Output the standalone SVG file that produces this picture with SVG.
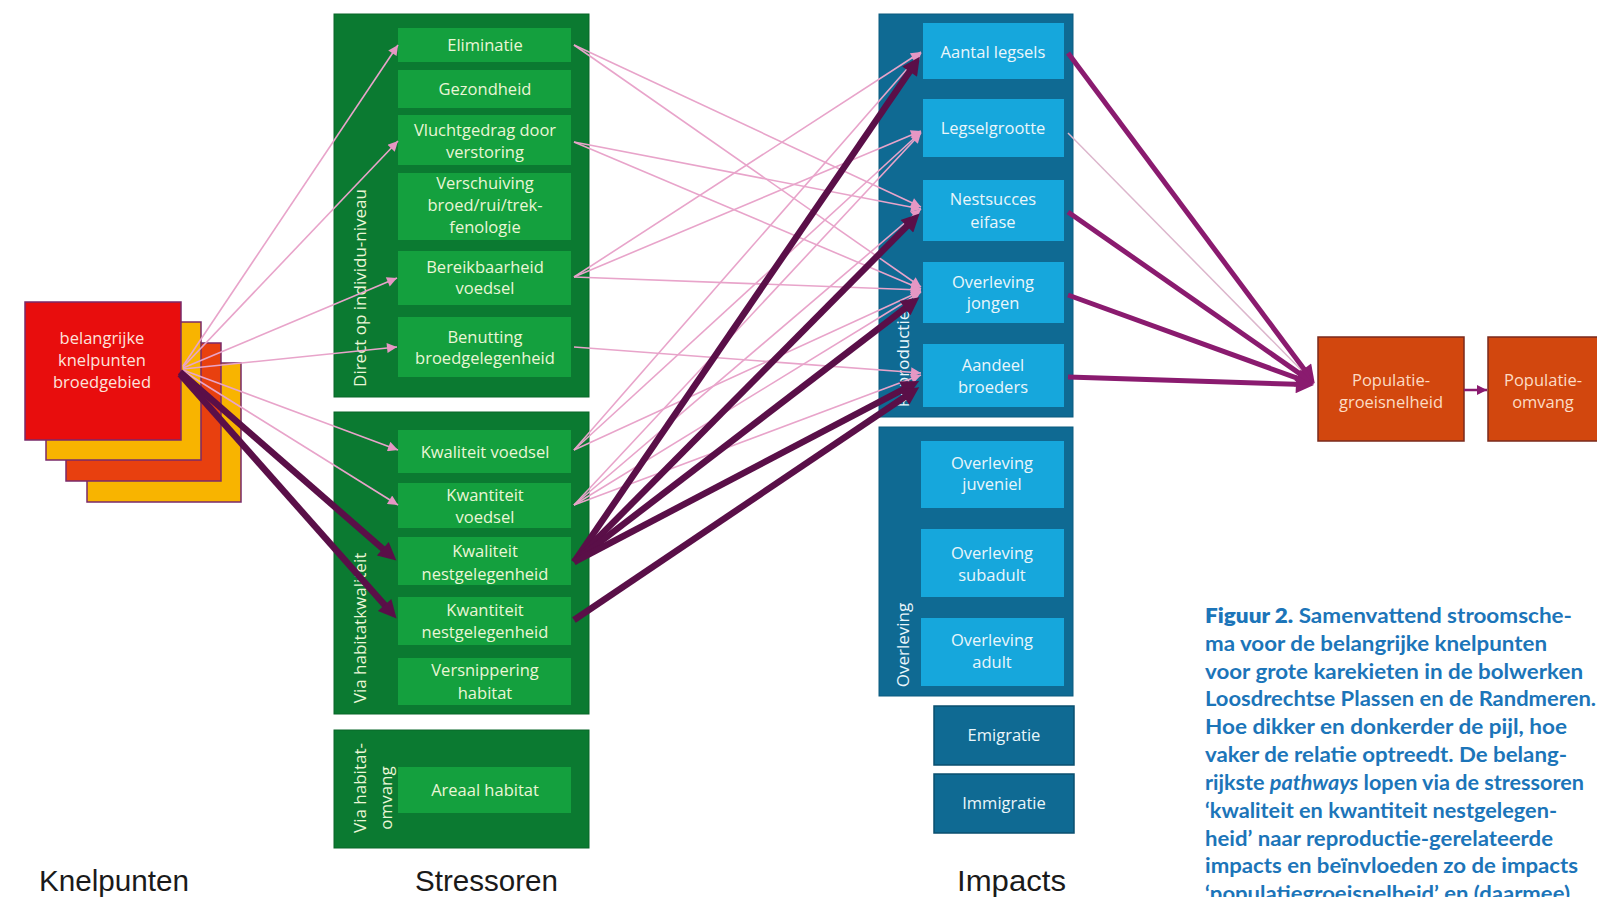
<svg xmlns="http://www.w3.org/2000/svg" width="1597" height="897" viewBox="0 0 1597 897">
<defs>
<style>
.t{font-family:"Open Sans","Liberation Sans",sans-serif;font-size:16.5px;text-anchor:middle}
.gout{fill:#0b7a31;stroke:#086628;stroke-width:1}
.gin{fill:#14a03e}
.gtx{fill:#eaf6d6}
.bout{fill:#0f6a93;stroke:#0b5a7e;stroke-width:1}
.bin{fill:#16a7dc}
.btx{fill:#eaf6fb}
.side{font-family:"Open Sans","Liberation Sans",sans-serif;font-size:17px;text-anchor:middle}
.pk{stroke:#e8a4ca;stroke-width:1.6;fill:none;marker-end:url(#ap)}
.dk{stroke:#5a0f48;stroke-width:6.5;fill:none;marker-end:url(#ad)}
.pr{stroke:#8a1b6f;stroke-width:5;fill:none;marker-end:url(#apr)}
.lbl{font-family:"Liberation Sans",Arial,sans-serif;font-size:29px;fill:#1a1a1a}
.cap{font-family:Lato,"Open Sans",sans-serif;font-weight:700;font-size:21px;fill:#1c75b9}
</style>
<marker id="ap" viewBox="0 0 10 10" refX="10" refY="5" markerWidth="13" markerHeight="10" markerUnits="userSpaceOnUse" orient="auto"><path d="M0,0 L10,5 L0,10 z" fill="#e697c4"/></marker>
<marker id="ad" viewBox="0 0 10 10" refX="4.5" refY="5" markerWidth="22" markerHeight="18" markerUnits="userSpaceOnUse" orient="auto"><path d="M0,0 L10,5 L0,10 z" fill="#5a0f48"/></marker>
<marker id="apr" viewBox="0 0 10 10" refX="4.5" refY="5" markerWidth="22" markerHeight="18" markerUnits="userSpaceOnUse" orient="auto"><path d="M0,0 L10,5 L0,10 z" fill="#8a1b6f"/></marker>
<marker id="asm" viewBox="0 0 10 10" refX="10" refY="5" markerWidth="11" markerHeight="10" markerUnits="userSpaceOnUse" orient="auto"><path d="M0,0 L10,5 L0,10 z" fill="#8a1b6f"/></marker>
</defs>
<rect width="1597" height="897" fill="#ffffff"/>

<g id="knelpunten">
<rect x="87" y="363" width="154" height="139" fill="#f8b400" stroke="#7a2a6a" stroke-width="1.5"/>
<rect x="66" y="343" width="155" height="138" fill="#e8400f" stroke="#7a2a6a" stroke-width="1.5"/>
<rect x="46" y="322" width="155" height="138" fill="#f8b400" stroke="#7a2a6a" stroke-width="1.5"/>
<rect x="25" y="302" width="156" height="138" fill="#e80d0d" stroke="#7a2a6a" stroke-width="1.5"/>
<text class="t" fill="#fde3dc" x="102" y="344">belangrijke</text>
<text class="t" fill="#fde3dc" x="102" y="366">knelpunten</text>
<text class="t" fill="#fde3dc" x="102" y="388">broedgebied</text>
</g>

<g id="stressoren-direct">
<rect class="gout" x="334" y="14" width="255" height="383"/>
<text class="side gtx" transform="translate(366,288) rotate(-90)">Direct op individu-niveau</text>
<g id="eliminatie"><rect class="gin" x="398" y="28" width="173" height="34"/><text class="t gtx" x="485" y="51">Eliminatie</text></g>
<g id="gezondheid"><rect class="gin" x="398" y="70" width="173" height="38"/><text class="t gtx" x="485" y="95">Gezondheid</text></g>
<g id="vluchtgedrag"><rect class="gin" x="398" y="115" width="173" height="50"/><text class="t gtx" x="485" y="136">Vluchtgedrag door</text><text class="t gtx" x="485" y="158">verstoring</text></g>
<g id="verschuiving"><rect class="gin" x="398" y="173" width="173" height="67"/><text class="t gtx" x="485" y="189">Verschuiving</text><text class="t gtx" x="485" y="211">broed/rui/trek-</text><text class="t gtx" x="485" y="233">fenologie</text></g>
<g id="bereikbaarheid"><rect class="gin" x="398" y="251" width="173" height="54"/><text class="t gtx" x="485" y="273">Bereikbaarheid</text><text class="t gtx" x="485" y="294">voedsel</text></g>
<g id="benutting"><rect class="gin" x="398" y="317" width="173" height="60"/><text class="t gtx" x="485" y="343">Benutting</text><text class="t gtx" x="485" y="364">broedgelegenheid</text></g>
</g>

<g id="stressoren-kwaliteit">
<rect class="gout" x="334" y="412" width="255" height="302"/>
<text class="side gtx" transform="translate(366,628) rotate(-90)">Via habitatkwaliteit</text>
<g id="kwaliteit-voedsel"><rect class="gin" x="398" y="430" width="173" height="43"/><text class="t gtx" x="485" y="458">Kwaliteit  voedsel</text></g>
<g id="kwantiteit-voedsel"><rect class="gin" x="398" y="483" width="173" height="45"/><text class="t gtx" x="485" y="501">Kwantiteit</text><text class="t gtx" x="485" y="523">voedsel</text></g>
<g id="kwaliteit-nest"><rect class="gin" x="398" y="537" width="173" height="48"/><text class="t gtx" x="485" y="557">Kwaliteit</text><text class="t gtx" x="485" y="580">nestgelegenheid</text></g>
<g id="kwantiteit-nest"><rect class="gin" x="398" y="597" width="173" height="48"/><text class="t gtx" x="485" y="616">Kwantiteit</text><text class="t gtx" x="485" y="638">nestgelegenheid</text></g>
<g id="versnippering"><rect class="gin" x="398" y="658" width="173" height="47"/><text class="t gtx" x="485" y="676">Versnippering</text><text class="t gtx" x="485" y="699">habitat</text></g>
</g>

<g id="stressoren-omvang">
<rect class="gout" x="334" y="730" width="255" height="118"/>
<text class="side gtx" transform="translate(366,788) rotate(-90)">Via habitat-</text>
<text class="side gtx" transform="translate(392,798) rotate(-90)">omvang</text>
<g id="areaal"><rect class="gin" x="398" y="767" width="173" height="46"/><text class="t gtx" x="485" y="796">Areaal habitat</text></g>
</g>

<g id="impacts-reproductie">
<rect class="bout" x="879" y="14" width="194" height="403"/>
<text class="side btx" transform="translate(909,359) rotate(-90)">Reproductie</text>
<g id="aantal-legsels"><rect class="bin" x="923" y="23" width="141" height="56"/><text class="t btx" x="993" y="58">Aantal legsels</text></g>
<g id="legselgrootte"><rect class="bin" x="923" y="99" width="141" height="58"/><text class="t btx" x="993" y="134">Legselgrootte</text></g>
<g id="nestsucces"><rect class="bin" x="923" y="180" width="141" height="61"/><text class="t btx" x="993" y="205">Nestsucces</text><text class="t btx" x="993" y="228">eifase</text></g>
<g id="overleving-jongen"><rect class="bin" x="923" y="262" width="141" height="61"/><text class="t btx" x="993" y="288">Overleving</text><text class="t btx" x="993" y="309">jongen</text></g>
<g id="aandeel-broeders"><rect class="bin" x="923" y="344" width="141" height="63"/><text class="t btx" x="993" y="371">Aandeel</text><text class="t btx" x="993" y="393">broeders</text></g>
</g>

<g id="impacts-overleving">
<rect class="bout" x="879" y="427" width="194" height="269"/>
<text class="side btx" transform="translate(909,645) rotate(-90)">Overleving</text>
<g id="overleving-juveniel"><rect class="bin" x="921" y="441" width="143" height="67"/><text class="t btx" x="992" y="469">Overleving</text><text class="t btx" x="992" y="490">juveniel</text></g>
<g id="overleving-subadult"><rect class="bin" x="921" y="529" width="143" height="68"/><text class="t btx" x="992" y="559">Overleving</text><text class="t btx" x="992" y="581">subadult</text></g>
<g id="overleving-adult"><rect class="bin" x="921" y="618" width="143" height="68"/><text class="t btx" x="992" y="646">Overleving</text><text class="t btx" x="992" y="668">adult</text></g>
</g>

<g id="emigratie"><rect x="934" y="706" width="140" height="59" fill="#0f6a93" stroke="#0a4f6f" stroke-width="1.5"/><text class="t btx" x="1004" y="741">Emigratie</text></g>
<g id="immigratie"><rect x="934" y="774" width="140" height="59" fill="#0f6a93" stroke="#0a4f6f" stroke-width="1.5"/><text class="t btx" x="1004" y="809">Immigratie</text></g>

<g id="populatie-groeisnelheid"><rect x="1318" y="337" width="146" height="104" fill="#d2470e" stroke="#7a2a1c" stroke-width="1.5"/><text class="t" fill="#fcdcc4" x="1391" y="386">Populatie-</text><text class="t" fill="#fcdcc4" x="1391" y="408">groeisnelheid</text></g>
<g id="populatie-omvang"><rect x="1488" y="337" width="115" height="104" fill="#d2470e" stroke="#7a2a1c" stroke-width="1.5"/><text class="t" fill="#fcdcc4" x="1543" y="386">Populatie-</text><text class="t" fill="#fcdcc4" x="1543" y="408">omvang</text></g>

<g id="connectors">
<!-- knelpunten to stressors -->
<line class="pk" x1="183" y1="366" x2="398" y2="45"/>
<line class="pk" x1="183" y1="367" x2="398" y2="141"/>
<line class="pk" x1="183" y1="368" x2="397" y2="278"/>
<line class="pk" x1="183" y1="369" x2="397" y2="347"/>
<line class="pk" x1="183" y1="370" x2="398" y2="450"/>
<line class="pk" x1="183" y1="371" x2="398" y2="505"/>
<line class="dk" x1="180" y1="372" x2="388.9" y2="554.1"/>
<line class="dk" x1="180" y1="374" x2="390" y2="611"/>
<!-- stressors to impacts (thin) -->
<line class="pk" x1="574" y1="45" x2="921" y2="207"/>
<line class="pk" x1="574" y1="45" x2="921" y2="287"/>
<line class="pk" x1="574" y1="142" x2="921" y2="209"/>
<line class="pk" x1="574" y1="142" x2="921" y2="289"/>
<line class="pk" x1="574" y1="277" x2="921" y2="52"/>
<line class="pk" x1="574" y1="277" x2="921" y2="131"/>
<line class="pk" x1="574" y1="277" x2="921" y2="290"/>
<line class="pk" x1="574" y1="347" x2="921" y2="373"/>
<line class="pk" x1="574" y1="450" x2="921" y2="53"/>
<line class="pk" x1="574" y1="450" x2="921" y2="132"/>
<line class="pk" x1="574" y1="450" x2="921" y2="291"/>
<line class="pk" x1="574" y1="505" x2="921" y2="133"/>
<line class="pk" x1="574" y1="505" x2="921" y2="209"/>
<line class="pk" x1="574" y1="505" x2="921" y2="292"/>
<line class="pk" x1="574" y1="505" x2="921" y2="375"/>
<!-- stressors to impacts (thick) -->
<line class="dk" x1="574" y1="562" x2="914.2" y2="64.9"/>
<line class="dk" x1="574" y1="562" x2="912.6" y2="220.5"/>
<line class="dk" x1="574" y1="562" x2="911.5" y2="303.3"/>
<line class="dk" x1="574" y1="562" x2="910.4" y2="385.6"/>
<line class="dk" x1="574" y1="620" x2="911" y2="392.7"/>
<!-- impacts to populatie -->
<line x1="1068" y1="133" x2="1314" y2="383" stroke="#dcb6cc" stroke-width="1.5"/>
<line class="pr" x1="1068" y1="53" x2="1308.8" y2="375.4"/>
<line class="pr" x1="1068" y1="212" x2="1306.2" y2="378.1"/>
<line class="pr" x1="1068" y1="295" x2="1304.7" y2="380.9"/>
<line class="pr" x1="1068" y1="377" x2="1304" y2="384.6" stroke="#6a1052"/>
<line x1="1464" y1="390" x2="1487" y2="390" stroke="#8a1b6f" stroke-width="2.5" marker-end="url(#asm)"/>
</g>

<g id="kolomlabels">
<text class="lbl" x="39" y="891" textLength="150" lengthAdjust="spacingAndGlyphs">Knelpunten</text>
<text class="lbl" x="415" y="891" textLength="143" lengthAdjust="spacingAndGlyphs">Stressoren</text>
<text class="lbl" x="957" y="891" textLength="109" lengthAdjust="spacingAndGlyphs">Impacts</text>
</g>

<g id="bijschrift">
<text class="cap" x="1205" y="623" textLength="367" lengthAdjust="spacingAndGlyphs"><tspan font-weight="800">Figuur 2.</tspan> Samenvattend stroomsche-</text>
<text class="cap" x="1205" y="651" textLength="342" lengthAdjust="spacingAndGlyphs">ma voor de belangrijke knelpunten</text>
<text class="cap" x="1205" y="679" textLength="378" lengthAdjust="spacingAndGlyphs">voor grote karekieten in de bolwerken</text>
<text class="cap" x="1205" y="706" textLength="391" lengthAdjust="spacingAndGlyphs">Loosdrechtse Plassen en de Randmeren.</text>
<text class="cap" x="1205" y="734" textLength="362" lengthAdjust="spacingAndGlyphs">Hoe dikker en donkerder de pijl, hoe</text>
<text class="cap" x="1205" y="762" textLength="362" lengthAdjust="spacingAndGlyphs">vaker de relatie optreedt. De belang-</text>
<text class="cap" x="1205" y="790" textLength="379" lengthAdjust="spacingAndGlyphs">rijkste <tspan font-style="italic">pathways</tspan> lopen via de stressoren</text>
<text class="cap" x="1205" y="818" textLength="352" lengthAdjust="spacingAndGlyphs">‘kwaliteit en kwantiteit nestgelegen-</text>
<text class="cap" x="1205" y="846" textLength="348" lengthAdjust="spacingAndGlyphs">heid’ naar reproductie-gerelateerde</text>
<text class="cap" x="1205" y="873" textLength="373" lengthAdjust="spacingAndGlyphs">impacts en beïnvloeden zo de impacts</text>
<text class="cap" x="1205" y="901" textLength="365" lengthAdjust="spacingAndGlyphs">‘populatiegroeisnelheid’ en (daarmee)</text>
</g>
</svg>
